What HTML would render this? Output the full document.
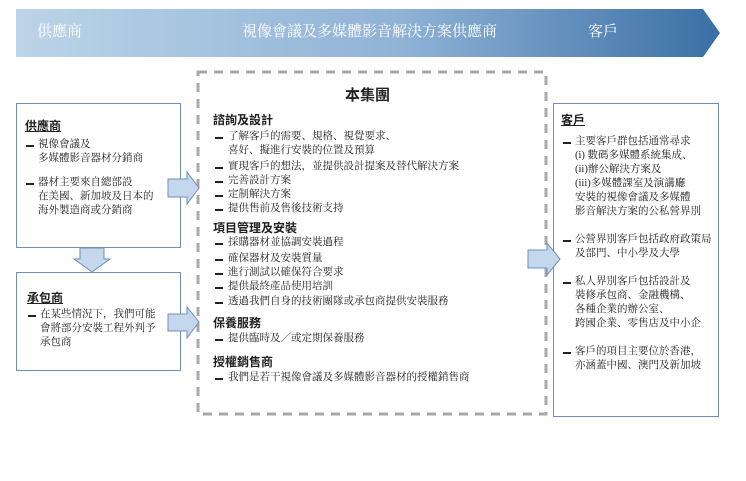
<!DOCTYPE html>
<html><head><meta charset="utf-8"><style>
body{margin:0;width:746px;height:481px;background:#fff;position:relative;font-family:"Liberation Serif","Noto Serif CJK SC","Noto Sans CJK TC",serif;color:#222;overflow:hidden}
.a{position:absolute;white-space:nowrap;font-size:10.5px;line-height:14px}
.h{position:absolute;white-space:nowrap;font-family:"Liberation Sans","Noto Sans CJK TC",sans-serif;font-weight:bold;font-size:12px}
.u{text-decoration:underline}
.box{position:absolute;border:1.3px solid #6d8fb8;background:#fff}
.d{position:absolute;width:8px;height:2px;background:#222;margin-top:7px}
</style></head><body>
<svg width="746" height="481" style="position:absolute;left:0;top:0">
<defs><linearGradient id="g" x1="0" x2="1"><stop offset="0" stop-color="#bcd4e8"/><stop offset="0.55" stop-color="#8fb2d6"/><stop offset="1" stop-color="#3b6fa5"/></linearGradient></defs>
<polygon points="16,9 703,9 720,33 703,57 16,57" fill="url(#g)"/>
<rect x="198" y="72" width="348" height="342" fill="none" stroke="#a8a8a8" stroke-width="3" stroke-dasharray="9,7"/>
</svg>
<div class="a" style="left:37px;top:22px;font-size:15px;line-height:20px;color:#fff">供應商</div>
<div class="a" style="left:242px;top:22px;font-size:15px;line-height:20px;color:#fff">視像會議及多媒體影音解決方案供應商</div>
<div class="a" style="left:588px;top:22px;font-size:15px;line-height:20px;color:#fff">客戶</div>

<div class="box" style="left:16px;top:103px;width:163px;height:143px"></div>
<div class="box" style="left:16px;top:272px;width:163px;height:97px"></div>
<div class="box" style="left:553px;top:103px;width:164px;height:312px"></div>

<svg width="746" height="481" style="position:absolute;left:0;top:0">
<g fill="#c5d7ec" stroke="#6d8fb8" stroke-width="1">
<polygon points="168,179 187,179 187,172 199,188 187,204 187,197 168,197"/>
<polygon points="168,314 187,314 187,307 199,322 187,338 187,331 168,331"/>
<polygon points="528,250 547,250 547,243 560,259 547,275 547,268 528,268"/>
<polygon points="80,248 104,248 104,259 110,259 92,272 74,259 80,259"/>
</g>
</svg>

<div class="h u" style="left:25px;top:117px">供應商</div>
<div class="d" style="left:26px;top:138px"></div>
<div class="a" style="left:38px;top:138px">視像會議及<br>多媒體影音器材分銷商</div>
<div class="d" style="left:26px;top:176px"></div>
<div class="a" style="left:38px;top:176px">器材主要來自總部設<br>在美國、新加坡及日本的<br>海外製造商或分銷商</div>

<div class="h u" style="left:27px;top:289px">承包商</div>
<div class="d" style="left:28px;top:308px"></div>
<div class="a" style="left:40px;top:308px">在某些情況下，我們可能<br>會將部分安裝工程外判予<br>承包商</div>

<div class="h" style="left:345px;top:84px;font-size:15px">本集團</div>
<div class="h" style="left:213px;top:111px">諮詢及設計</div>
<div class="d" style="left:215px;top:130px"></div>
<div class="a" style="left:228px;top:130px">了解客戶的需要、規格、視覺要求、<br>喜好、擬進行安裝的位置及預算</div>
<div class="d" style="left:215px;top:160px"></div><div class="a" style="left:228px;top:160px">實現客戶的想法，並提供設計提案及替代解決方案</div>
<div class="d" style="left:215px;top:174px"></div><div class="a" style="left:228px;top:174px">完善設計方案</div>
<div class="d" style="left:215px;top:188px"></div><div class="a" style="left:228px;top:188px">定制解決方案</div>
<div class="d" style="left:215px;top:202px"></div><div class="a" style="left:228px;top:202px">提供售前及售後技術支持</div>
<div class="h" style="left:213px;top:219px">項目管理及安裝</div>
<div class="d" style="left:215px;top:236px"></div><div class="a" style="left:228px;top:236px">採購器材並協調安裝過程</div>
<div class="d" style="left:215px;top:252px"></div><div class="a" style="left:228px;top:252px">確保器材及安裝質量</div>
<div class="d" style="left:215px;top:266px"></div><div class="a" style="left:228px;top:266px">進行測試以確保符合要求</div>
<div class="d" style="left:215px;top:280px"></div><div class="a" style="left:228px;top:280px">提供最終產品使用培訓</div>
<div class="d" style="left:215px;top:295px"></div><div class="a" style="left:228px;top:295px">透過我們自身的技術團隊或承包商提供安裝服務</div>
<div class="h" style="left:213px;top:314px">保養服務</div>
<div class="d" style="left:215px;top:332px"></div><div class="a" style="left:228px;top:332px">提供臨時及／或定期保養服務</div>
<div class="h" style="left:213px;top:353px">授權銷售商</div>
<div class="d" style="left:215px;top:371px"></div><div class="a" style="left:228px;top:371px">我們是若干視像會議及多媒體影音器材的授權銷售商</div>

<div class="h u" style="left:561px;top:111px">客戶</div>
<div class="d" style="left:563px;top:135px"></div>
<div class="a" style="left:575px;top:135px">主要客戶群包括通常尋求<br>(i) 數碼多媒體系統集成、<br>(ii)辦公解決方案及<br>(iii)多媒體課室及演講廳<br>安裝的視像會議及多媒體<br>影音解決方案的公私營界別</div>
<div class="d" style="left:563px;top:233px"></div>
<div class="a" style="left:575px;top:233px">公營界別客戶包括政府政策局<br>及部門、中小學及大學</div>
<div class="d" style="left:563px;top:275px"></div>
<div class="a" style="left:575px;top:275px">私人界別客戶包括設計及<br>裝修承包商、金融機構、<br>各種企業的辦公室、<br>跨國企業、零售店及中小企</div>
<div class="d" style="left:563px;top:345px"></div>
<div class="a" style="left:575px;top:345px">客戶的項目主要位於香港，<br>亦涵蓋中國、澳門及新加坡</div>
</body></html>
